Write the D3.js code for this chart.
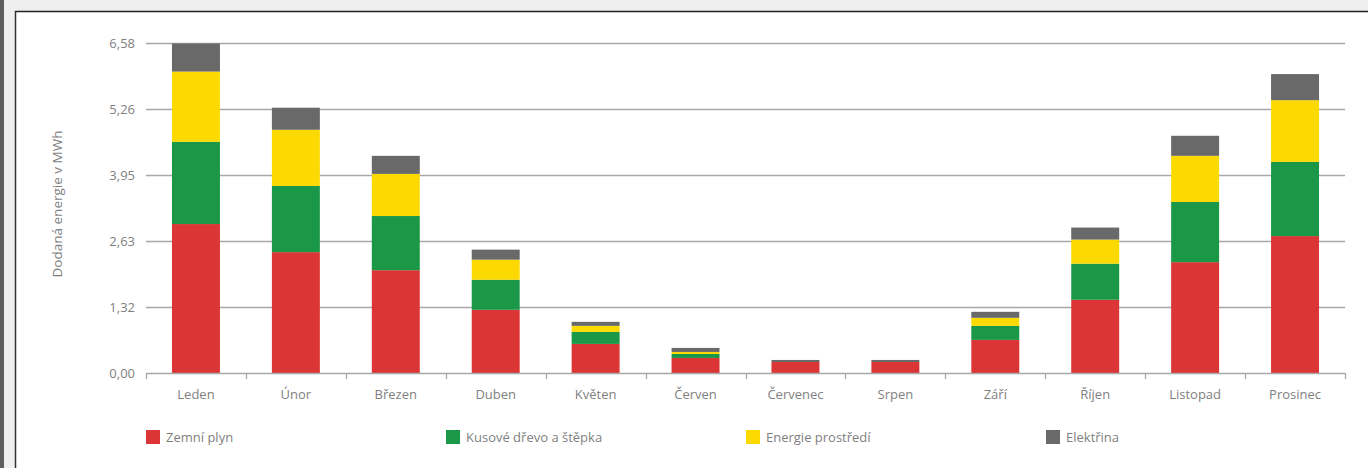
<!DOCTYPE html>
<html>
<head>
<meta charset="utf-8" />
<script src="https://d3js.org/d3.v7.min.js"></script>
<style>
  body { margin: 0; background: #efefef; overflow: hidden; }
  svg { display: block; }
  text { font-family: "Open Sans", "Noto Sans", sans-serif; fill: #7f7f7f; }
</style>
</head>
<body>
<svg id="chart" width="1368" height="468"></svg>
<script>
// monthly delivered energy, MWh
const months = ["Leden", "Únor", "Březen", "Duben", "Květen", "Červen", "Červenec", "Srpen", "Září", "Říjen", "Listopad", "Prosinec"];
const seriesNames = ["Zemní plyn", "Kusové dřevo a štěpka", "Energie prostředí", "Elektřina"];
const seriesColors = ["#dc3535", "#1a9848", "#fcd900", "#696969"];
const zemniPlyn = [2.97, 2.41, 2.05, 1.26, 0.58, 0.30, 0.22, 0.22, 0.66, 1.46, 2.21, 2.73];
const drevo = [1.64, 1.32, 1.08, 0.60, 0.24, 0.08, 0, 0, 0.28, 0.72, 1.20, 1.48];
const prostredi = [1.40, 1.12, 0.84, 0.40, 0.12, 0.04, 0, 0, 0.16, 0.48, 0.92, 1.23];
const elektrina = [0.56, 0.44, 0.36, 0.20, 0.08, 0.08, 0.04, 0.04, 0.12, 0.24, 0.40, 0.52];
const yTicks = [0, 1.316, 2.632, 3.948, 5.264, 6.58];

const svg = d3.select("#chart");

// frame like the original screenshot
svg.append("rect").attr("x", 0).attr("y", 0).attr("width", 4).attr("height", 468).attr("fill", "#5e5e5e");
svg.append("rect").attr("x", 16).attr("y", 12).attr("width", 1352).attr("height", 456).attr("fill", "#fff");
svg.append("line").attr("x1", 15.5).attr("x2", 15.5).attr("y1", 11).attr("y2", 468).attr("stroke", "#333").attr("stroke-width", 1.5);
svg.append("line").attr("x1", 15).attr("x2", 1368).attr("y1", 11.5).attr("y2", 11.5).attr("stroke", "#222").attr("stroke-width", 1.5);

const plotLeft = 146, plotRight = 1345, plotTop = 43, plotBottom = 373;

const rows = months.map((m, i) => ({
  month: m, s0: zemniPlyn[i], s1: drevo[i], s2: prostredi[i], s3: elektrina[i]
}));
const stack = d3.stack().keys(["s0", "s1", "s2", "s3"])(rows);

const x = d3.scaleBand().domain(months).range([plotLeft, plotRight]).paddingInner(0.52).paddingOuter(0.26);
const y = d3.scaleLinear().domain([0, 6.58]).range([plotBottom, plotTop]);

// gridlines
svg.append("g").selectAll("line").data(yTicks.slice(1)).join("line")
  .attr("x1", plotLeft).attr("x2", plotRight)
  .attr("y1", d => Math.round(y(d)) + 0.5).attr("y2", d => Math.round(y(d)) + 0.5)
  .attr("stroke", "#a8a8a8").attr("stroke-width", 1.3);

// y tick labels
svg.append("g").selectAll("text").data(yTicks).join("text")
  .attr("x", 135).attr("y", d => y(d)).attr("dy", "0.35em")
  .attr("text-anchor", "end").style("font-size", "13px")
  .text(d => d3.format(".2f")(d).replace(".", ","));

// bars
svg.append("g").selectAll("g").data(stack).join("g")
  .attr("fill", (d, i) => seriesColors[i])
  .selectAll("rect").data(d => d).join("rect")
  .attr("x", d => x(d.data.month))
  .attr("width", x.bandwidth())
  .attr("y", d => y(d[1]))
  .attr("height", d => y(d[0]) - y(d[1]));

// x axis line + ticks between categories
const step = x.step();
svg.append("line").attr("x1", plotLeft).attr("x2", plotRight).attr("y1", plotBottom + 0.5).attr("y2", plotBottom + 0.5)
  .attr("stroke", "#a8a8a8").attr("stroke-width", 1.3);
svg.append("g").selectAll("line").data(d3.range(months.length + 1)).join("line")
  .attr("x1", i => Math.round(plotLeft + i * step) + 0.5).attr("x2", i => Math.round(plotLeft + i * step) + 0.5)
  .attr("y1", plotBottom).attr("y2", plotBottom + 6)
  .attr("stroke", "#a8a8a8").attr("stroke-width", 1.3);

svg.append("g").selectAll("text").data(months).join("text")
  .attr("x", d => x(d) + x.bandwidth() / 2).attr("y", 399)
  .attr("text-anchor", "middle").style("font-size", "13px")
  .text(d => d);

// y axis title
svg.append("text")
  .attr("transform", "translate(62,204) rotate(-90)")
  .attr("text-anchor", "middle").style("font-size", "13.5px")
  .text("Dodaná energie v MWh");

// legend
const legend = svg.append("g").selectAll("g").data(seriesNames).join("g")
  .attr("transform", (d, i) => `translate(${146 + i * 300},430)`);
legend.append("rect").attr("width", 14).attr("height", 14).attr("fill", (d, i) => seriesColors[i]);
legend.append("text").attr("x", 20).attr("y", 7).attr("dy", "0.35em")
  .style("font-size", "13px").text(d => d);
</script>
</body>
</html>
